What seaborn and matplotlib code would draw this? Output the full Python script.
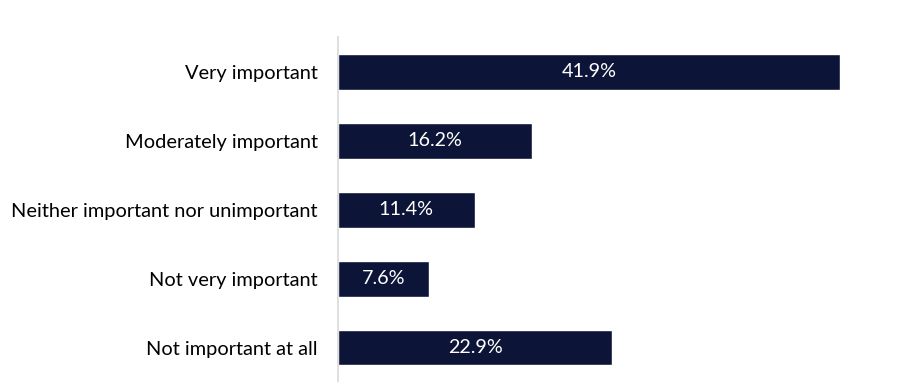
import matplotlib
matplotlib.use('Agg')
import matplotlib.pyplot as plt
import seaborn as sns
import pandas as pd

categories = ['Very important', 'Moderately important',
              'Neither important nor unimportant', 'Not very important',
              'Not important at all']
values = [41.9, 16.2, 11.4, 7.6, 22.9]

sns.set_theme(style='white')
plt.rcParams['font.family'] = ['Lato', 'DejaVu Sans']

df = pd.DataFrame({'Category': categories, 'Value': values})

fig = plt.figure(figsize=(9.04, 3.82), dpi=100)
ax = fig.add_axes([338 / 904, 0.0, 45 * 11.98 / 904, 1 - 37.5 / 382])

sns.barplot(data=df, y='Category', x='Value', color='#0C1538',
            saturation=1, width=0.52, ax=ax)

for i, v in enumerate(values):
    ax.text(v / 2, i, f'{v:.1f}%', ha='center', va='center',
            color='white', fontsize=14.2)

ax.set_xlim(0, 45)
ax.set_ylim(4.5, -0.5)
ax.set_xlabel('')
ax.set_ylabel('')
ax.set_xticks([])
ax.tick_params(axis='y', length=0, pad=14.5, labelsize=14.4, labelcolor='black')
for s in ['top', 'right', 'bottom']:
    ax.spines[s].set_visible(False)
ax.spines['left'].set_color('#D9D9D9')
ax.spines['left'].set_linewidth(1.2)

fig.savefig('out.png', dpi=100)
plt.close()
